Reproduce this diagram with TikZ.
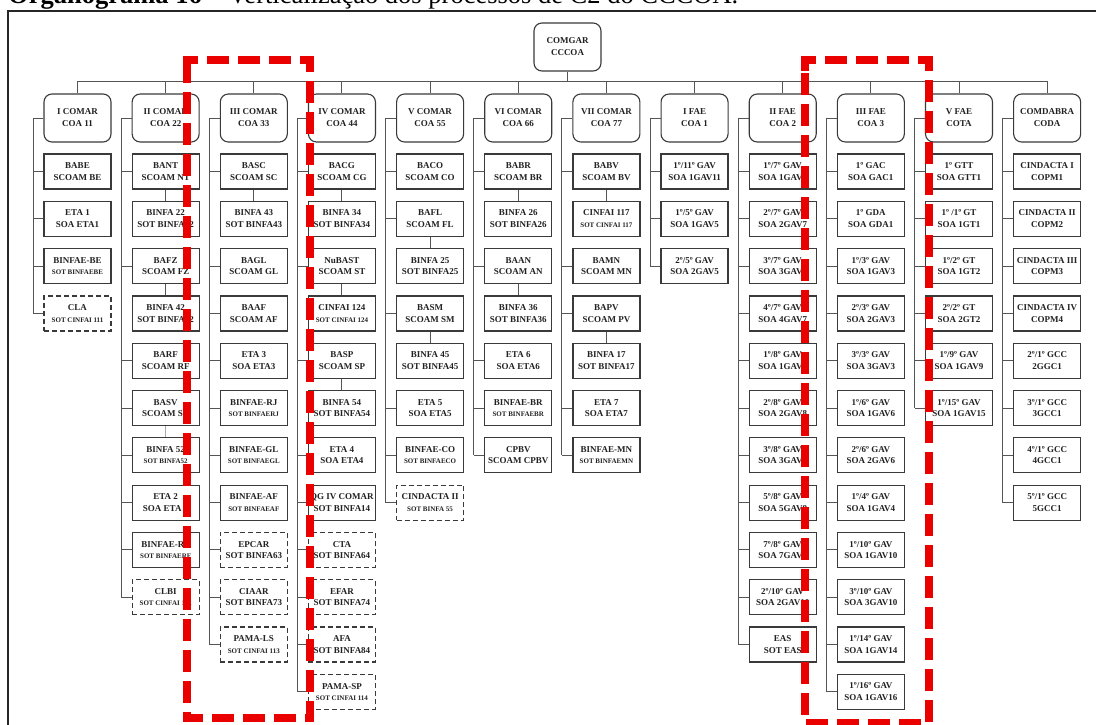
\documentclass[tikz,border=0pt]{standalone}
\usepackage{fontspec}
\setmainfont{Liberation Serif}
\definecolor{boxc}{HTML}{3A3A3A}
\definecolor{txt}{HTML}{222222}
\definecolor{linec}{HTML}{555555}
\definecolor{faintc}{HTML}{AAAAAA}
\definecolor{redc}{RGB}{235,0,0}
\newcommand\sm{\fontsize{7}{8}\selectfont}
\newcommand\UN[5]{\node[#3] (c#1r#2) at ({77.5+88.15*#1},{171.5+47.3*#2}) {#4\\#5};}
\newcommand\ST[2]{\draw[link] (c#1r#2.west) -- (c#1r#2.west -| sp#1);}
\newcommand\VL[3]{\draw[link] (c#1r#2.south) -- (c#1r#3.north);}
\newcommand\SP[2]{\coordinate (sp#1) at ({77.5+88.15*#1-44.5},118);
  \draw[link] (h#1.west) -- (sp#1) -- (c#1r#2.west -| sp#1);}
\tikzset{
  hdr/.style={draw=boxc, fill=white, line width=1.1pt, rounded corners=8pt,
    minimum width=67pt, minimum height=48pt, inner sep=0pt, align=center,
    font=\bfseries\fontsize{9}{12}\selectfont, text=txt},
  unit/.style={draw=boxc, fill=white, line width=1.2pt, minimum width=67pt,
    minimum height=35pt, inner sep=0pt, align=center,
    font=\bfseries\fontsize{9}{11.5}\selectfont, text=txt},
  dunit/.style={unit, dash pattern=on 5pt off 3pt},
  link/.style={draw=linec, line width=1pt},
  flink/.style={draw=faintc, line width=0.8pt},
  redbox/.style={draw=redc, line width=7.5pt, dash pattern=on 22pt off 9pt, line cap=butt, line join=miter},
}
\begin{document}
\begin{tikzpicture}[x=1pt,y=-1pt]
\useasboundingbox (0,0) rectangle (1096,725);
\clip (0,0) rectangle (1096,725);
\fill[white] (0,0) rectangle (1096,725);
% title (cut by the page edge, as in the reference)
\node[anchor=base west, inner sep=0pt, font=\fontsize{26.5}{28}\selectfont, text=black] (title) at (8,4)
  {\textbf{Organograma 16} – Verticalização dos processos de C2 do CCCOA.};
% frame
\draw[line width=1.6pt, draw=black!85] (8,725) -- (8,11) -- (1096,11);
% top
\node[hdr] (top) at (567.5,47) {COMGAR\\CCCOA};
\coordinate (bus) at (0,82);
% headers
\node[hdr] (h0) at ({77.5+88.15*0},118) {I COMAR\\COA 11};
\node[hdr] (h1) at ({77.5+88.15*1},118) {II COMAR\\COA 22};
\node[hdr] (h2) at ({77.5+88.15*2},118) {III COMAR\\COA 33};
\node[hdr] (h3) at ({77.5+88.15*3},118) {IV COMAR\\COA 44};
\node[hdr] (h4) at ({77.5+88.15*4},118) {V COMAR\\COA 55};
\node[hdr] (h5) at ({77.5+88.15*5},118) {VI COMAR\\COA 66};
\node[hdr] (h6) at ({77.5+88.15*6},118) {VII COMAR\\COA 77};
\node[hdr] (h7) at ({77.5+88.15*7},118) {I FAE\\COA 1};
\node[hdr] (h8) at ({77.5+88.15*8},118) {II FAE\\COA 2};
\node[hdr] (h9) at ({77.5+88.15*9},118) {III FAE\\COA 3};
\node[hdr] (h10) at ({77.5+88.15*10},118) {V FAE\\COTA};
\node[hdr] (h11) at ({77.5+88.15*11},118) {COMDABRA\\CODA};
\draw[link] (top.south) -- (top.south |- bus);
\draw[link] (h0.north) -- (h0.north |- bus) -- (h11.north |- bus) -- (h11.north);
\foreach \i in {1,...,10} {\draw[link] (h\i.north) -- (h\i.north |- bus);}
% column 0
\UN{0}{0}{unit}{BABE}{SCOAM BE}
\UN{0}{1}{unit}{ETA 1}{SOA ETA1}
\UN{0}{2}{unit}{BINFAE-BE}{\sm SOT BINFAEBE}
\UN{0}{3}{dunit}{CLA}{\sm SOT CINFAI 111}
\SP{0}{3}
\foreach \r in {0,...,3} {\ST{0}{\r}}
% column 1
\UN{1}{0}{unit}{BANT}{SCOAM NT}
\UN{1}{1}{unit}{BINFA 22}{SOT BINFA22}
\UN{1}{2}{unit}{BAFZ}{SCOAM FZ}
\UN{1}{3}{unit}{BINFA 42}{SOT BINFA42}
\UN{1}{4}{unit}{BARF}{SCOAM RF}
\UN{1}{5}{unit}{BASV}{SCOAM SV}
\UN{1}{6}{unit}{BINFA 52}{\sm SOT BINFA52}
\UN{1}{7}{unit}{ETA 2}{SOA ETA 2}
\UN{1}{8}{unit}{BINFAE-RF}{\sm SOT BINFAERF}
\UN{1}{9}{dunit}{CLBI}{\sm SOT CINFAI 112}
\SP{1}{9}
\foreach \r in {0,2,4,5,6,7,8,9} {\ST{1}{\r}}
\VL{1}{0}{1}
\VL{1}{2}{3}
\draw[flink] (c1r5.south) -- (c1r6.north);
% column 2
\UN{2}{0}{unit}{BASC}{SCOAM SC}
\UN{2}{1}{unit}{BINFA 43}{SOT BINFA43}
\UN{2}{2}{unit}{BAGL}{SCOAM GL}
\UN{2}{3}{unit}{BAAF}{SCOAM AF}
\UN{2}{4}{unit}{ETA 3}{SOA ETA3}
\UN{2}{5}{unit}{BINFAE-RJ}{\sm SOT BINFAERJ}
\UN{2}{6}{unit}{BINFAE-GL}{\sm SOT BINFAEGL}
\UN{2}{7}{unit}{BINFAE-AF}{\sm SOT BINFAEAF}
\UN{2}{8}{dunit}{EPCAR}{SOT BINFA63}
\UN{2}{9}{dunit}{CIAAR}{SOT BINFA73}
\UN{2}{10}{dunit}{PAMA-LS}{\sm SOT CINFAI 113}
\SP{2}{10}
\foreach \r in {0,2,3,4,5,6,7,8,9,10} {\ST{2}{\r}}
\VL{2}{0}{1}
% column 3
\UN{3}{0}{unit}{BACG}{SCOAM CG}
\UN{3}{1}{unit}{BINFA 34}{SOT BINFA34}
\UN{3}{2}{unit}{NuBAST}{SCOAM ST}
\UN{3}{3}{unit}{CINFAI 124}{\sm SOT CINFAI 124}
\UN{3}{4}{unit}{BASP}{SCOAM SP}
\UN{3}{5}{unit}{BINFA 54}{SOT BINFA54}
\UN{3}{6}{unit}{ETA 4}{SOA ETA4}
\UN{3}{7}{unit}{QG IV COMAR}{SOT BINFA14}
\UN{3}{8}{dunit}{CTA}{SOT BINFA64}
\UN{3}{9}{dunit}{EFAR}{SOT BINFA74}
\UN{3}{10}{dunit}{AFA}{SOT BINFA84}
\UN{3}{11}{dunit}{PAMA-SP}{\sm SOT CINFAI 114}
\SP{3}{11}
\foreach \r in {0,2,4,6,7,8,9,10,11} {\ST{3}{\r}}
\VL{3}{0}{1}
\VL{3}{2}{3}
\VL{3}{4}{5}
% column 4
\UN{4}{0}{unit}{BACO}{SCOAM CO}
\UN{4}{1}{unit}{BAFL}{SCOAM FL}
\UN{4}{2}{unit}{BINFA 25}{SOT BINFA25}
\UN{4}{3}{unit}{BASM}{SCOAM SM}
\UN{4}{4}{unit}{BINFA 45}{SOT BINFA45}
\UN{4}{5}{unit}{ETA 5}{SOA ETA5}
\UN{4}{6}{unit}{BINFAE-CO}{\sm SOT BINFAECO}
\UN{4}{7}{dunit}{CINDACTA II}{\sm SOT BINFA 55}
\SP{4}{7}
\foreach \r in {0,1,3,5,6,7} {\ST{4}{\r}}
\VL{4}{1}{2}
\VL{4}{3}{4}
% column 5
\UN{5}{0}{unit}{BABR}{SCOAM BR}
\UN{5}{1}{unit}{BINFA 26}{SOT BINFA26}
\UN{5}{2}{unit}{BAAN}{SCOAM AN}
\UN{5}{3}{unit}{BINFA 36}{SOT BINFA36}
\UN{5}{4}{unit}{ETA 6}{SOA ETA6}
\UN{5}{5}{unit}{BINFAE-BR}{\sm SOT BINFAEBR}
\UN{5}{6}{unit}{CPBV}{SCOAM CPBV}
\SP{5}{6}
\foreach \r in {0,2,4,5,6} {\ST{5}{\r}}
\VL{5}{0}{1}
\VL{5}{2}{3}
% column 6
\UN{6}{0}{unit}{BABV}{SCOAM BV}
\UN{6}{1}{unit}{CINFAI 117}{\sm SOT CINFAI 117}
\UN{6}{2}{unit}{BAMN}{SCOAM MN}
\UN{6}{3}{unit}{BAPV}{SCOAM PV}
\UN{6}{4}{unit}{BINFA 17}{SOT BINFA17}
\UN{6}{5}{unit}{ETA 7}{SOA ETA7}
\UN{6}{6}{unit}{BINFAE-MN}{\sm SOT BINFAEMN}
\SP{6}{6}
\foreach \r in {0,2,3,5,6} {\ST{6}{\r}}
\VL{6}{0}{1}
\VL{6}{3}{4}
% column 7
\UN{7}{0}{unit}{1º/11º GAV}{SOA 1GAV11}
\UN{7}{1}{unit}{1º/5º GAV}{SOA 1GAV5}
\UN{7}{2}{unit}{2º/5º GAV}{SOA 2GAV5}
\SP{7}{2}
\foreach \r in {0,...,2} {\ST{7}{\r}}
% column 8
\UN{8}{0}{unit}{1º/7º GAV}{SOA 1GAV7}
\UN{8}{1}{unit}{2º/7º GAV}{SOA 2GAV7}
\UN{8}{2}{unit}{3º/7º GAV}{SOA 3GAV7}
\UN{8}{3}{unit}{4º/7º GAV}{SOA 4GAV7}
\UN{8}{4}{unit}{1º/8º GAV}{SOA 1GAV8}
\UN{8}{5}{unit}{2º/8º GAV}{SOA 2GAV8}
\UN{8}{6}{unit}{3º/8º GAV}{SOA 3GAV8}
\UN{8}{7}{unit}{5º/8º GAV}{SOA 5GAV8}
\UN{8}{8}{unit}{7º/8º GAV}{SOA 7GAV8}
\UN{8}{9}{unit}{2º/10º GAV}{SOA 2GAV10}
\UN{8}{10}{unit}{EAS}{SOT EAS}
\SP{8}{10}
\foreach \r in {0,...,10} {\ST{8}{\r}}
% column 9
\UN{9}{0}{unit}{1º GAC}{SOA GAC1}
\UN{9}{1}{unit}{1º GDA}{SOA GDA1}
\UN{9}{2}{unit}{1º/3º GAV}{SOA 1GAV3}
\UN{9}{3}{unit}{2º/3º GAV}{SOA 2GAV3}
\UN{9}{4}{unit}{3º/3º GAV}{SOA 3GAV3}
\UN{9}{5}{unit}{1º/6º GAV}{SOA 1GAV6}
\UN{9}{6}{unit}{2º/6º GAV}{SOA 2GAV6}
\UN{9}{7}{unit}{1º/4º GAV}{SOA 1GAV4}
\UN{9}{8}{unit}{1º/10º GAV}{SOA 1GAV10}
\UN{9}{9}{unit}{3º/10º GAV}{SOA 3GAV10}
\UN{9}{10}{unit}{1º/14º GAV}{SOA 1GAV14}
\UN{9}{11}{unit}{1º/16º GAV}{SOA 1GAV16}
\SP{9}{11}
\foreach \r in {0,...,11} {\ST{9}{\r}}
% column 10
\UN{10}{0}{unit}{1º GTT}{SOA GTT1}
\UN{10}{1}{unit}{1º /1º GT}{SOA 1GT1}
\UN{10}{2}{unit}{1º/2º GT}{SOA 1GT2}
\UN{10}{3}{unit}{2º/2º GT}{SOA 2GT2}
\UN{10}{4}{unit}{1º/9º GAV}{SOA 1GAV9}
\UN{10}{5}{unit}{1º/15º GAV}{SOA 1GAV15}
\SP{10}{5}
\foreach \r in {0,...,5} {\ST{10}{\r}}
% column 11
\UN{11}{0}{unit}{CINDACTA I}{COPM1}
\UN{11}{1}{unit}{CINDACTA II}{COPM2}
\UN{11}{2}{unit}{CINDACTA III}{COPM3}
\UN{11}{3}{unit}{CINDACTA IV}{COPM4}
\UN{11}{4}{unit}{2º/1º GCC}{2GGC1}
\UN{11}{5}{unit}{3º/1º GCC}{3GCC1}
\UN{11}{6}{unit}{4º/1º GCC}{4GCC1}
\UN{11}{7}{unit}{5º/1º GCC}{5GCC1}
\SP{11}{7}
\foreach \r in {0,...,7} {\ST{11}{\r}}
% red dashed highlight frames
\draw[redbox] (187,71) -- (187,60) -- (310,60) -- (310,718) -- (187,718) -- cycle;
\draw[redbox] (805,71) -- (805,60) -- (929,60) -- (929,723) -- (805,723) -- cycle;
\end{tikzpicture}
\end{document}
